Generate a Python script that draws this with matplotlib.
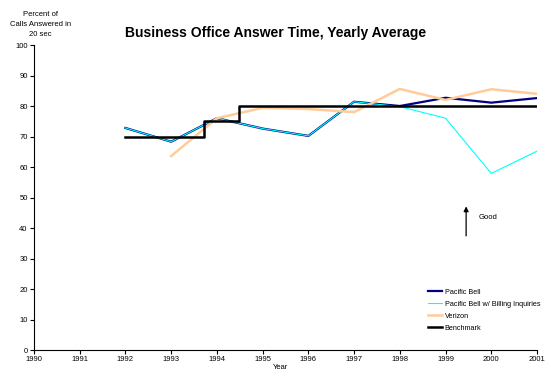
import matplotlib
matplotlib.use("Agg")
import matplotlib.pyplot as plt

plt.rcParams['font.family'] = ['Liberation Sans', 'DejaVu Sans']

# yearly averages, percent of calls answered in 20 sec
years = [1992, 1993, 1994, 1995, 1996, 1997, 1998, 1999, 2000, 2001]
pacific_bell = [72.8, 68.3, 76.0, 72.6, 70.2, 81.4, 80.0, 82.7, 81.1, 82.6]
pacific_bell_billing = [72.8, 68.3, 76.0, 72.6, 70.2, 81.4, 79.8, 76.0, 57.9, 65.2]

verizon_years = [1993, 1994, 1995, 1996, 1997, 1998, 1999, 2000, 2001]
verizon = [63.6, 76.0, 79.4, 79.0, 78.0, 85.6, 82.0, 85.5, 84.0]

# benchmark is a step function
bench_x = [1992, 1993.72, 1993.72, 1994.48, 1994.48, 2001]
bench_y = [70, 70, 75, 75, 80, 80]

x_ticks = list(range(1990, 2002))
y_ticks = list(range(0, 101, 10))

fig = plt.figure(figsize=(5.51, 3.77), dpi=100)
ax = fig.add_axes([0.0617, 0.0716, 0.9129, 0.809])

ax.plot(years, pacific_bell, color='#000080', linewidth=1.6, label='Pacific Bell')
ax.plot(years, pacific_bell_billing, color='#00FFFF', linewidth=0.8,
        label='Pacific Bell w/ Billing Inquiries')
ax.plot(verizon_years, verizon, color='#FFCC99', linewidth=1.8, label='Verizon')
ax.plot(bench_x, bench_y, color='black', linewidth=1.8, label='Benchmark')

ax.set_xlim(1990, 2001)
ax.set_ylim(0, 100)
ax.set_xticks(x_ticks)
ax.set_yticks(y_ticks)
ax.tick_params(labelsize=5.5, length=3, width=0.8, pad=1.5)
for side in ['top', 'right']:
    ax.spines[side].set_visible(False)
for side in ['left', 'bottom']:
    ax.spines[side].set_linewidth(0.8)

ax.set_xlabel('Year', fontsize=5.5, labelpad=-1)
ax.xaxis.set_label_coords(0.49, -0.045)

fig.text(0.073, 0.935, 'Percent of\nCalls Answered in\n20 sec', fontsize=5.5,
         ha='center', va='center', linespacing=1.6)
fig.text(0.5, 0.912, 'Business Office Answer Time, Yearly Average',
         fontsize=10, fontweight='bold', ha='center', va='center')

# "Good" arrow
ax.annotate('', xy=(1999.45, 48.0), xytext=(1999.45, 36.5),
            arrowprops=dict(arrowstyle='-|>', color='black', lw=0.9,
                            mutation_scale=7))
ax.text(1999.72, 43.6, 'Good', fontsize=5.5, va='center')

ax.legend(loc='lower right', bbox_to_anchor=(1.012, 0.05), frameon=False,
          fontsize=5.2, handlelength=2.0, handletextpad=0.3, labelspacing=0.7,
          borderaxespad=0)

fig.savefig('out.png', dpi=100)
